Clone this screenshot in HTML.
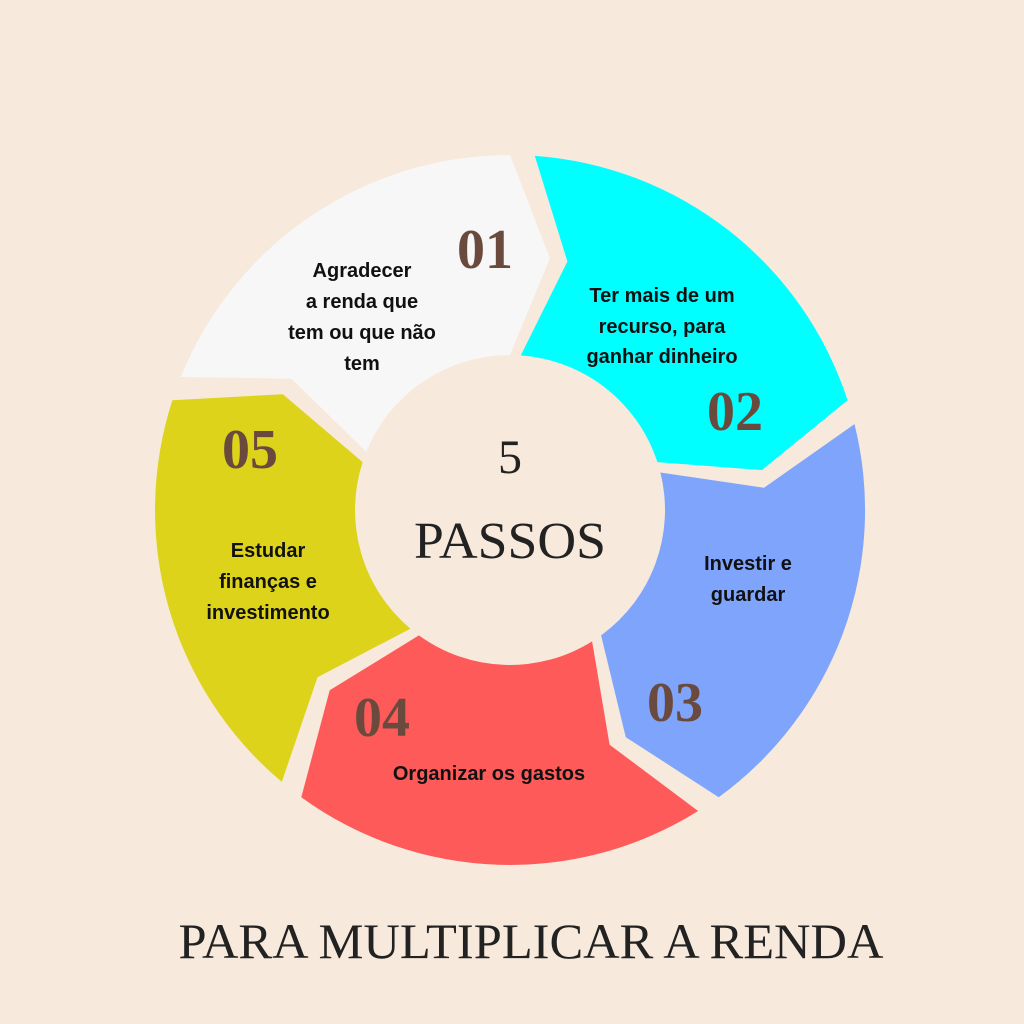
<!DOCTYPE html>
<html><head><meta charset="utf-8"><style>html,body{margin:0;padding:0;background:#f7e9dc}svg{display:block}</style></head><body>
<svg width="1024" height="1024" viewBox="0 0 1024 1024" xmlns="http://www.w3.org/2000/svg">
<rect width="1024" height="1024" fill="#f7e9dc"/>
<path d="M534.8,155.9 A355,355 0 0 1 847.6,400.3 L761.9,470.1 L657.4,462.1 A155,155 0 0 0 520.8,355.4 L567.4,261.5 Z" fill="#00ffff"/>
<path d="M854.5,424.1 A355,355 0 0 1 718.7,797.2 L625.8,737.2 L601.1,635.4 A155,155 0 0 0 660.4,472.5 L764.0,487.8 Z" fill="#7fa4fb"/>
<path d="M698.1,811.0 A355,355 0 0 1 301.3,797.2 L329.7,690.3 L418.9,635.4 A155,155 0 0 0 592.1,641.4 L609.6,744.7 Z" fill="#fe5a59"/>
<path d="M281.8,781.9 A355,355 0 0 1 172.4,400.3 L282.8,394.2 L362.6,462.1 A155,155 0 0 0 410.4,628.7 L317.5,677.3 Z" fill="#dcd31a"/>
<path d="M180.8,377.0 A355,355 0 0 1 510,155 L549.9,258.1 L510,355 A155,155 0 0 0 366.3,451.9 L291.4,378.7 Z" fill="#f7f7f7"/>
<g font-family="Liberation Serif, serif" font-weight="bold" font-size="56" fill="#6b4a3e" text-anchor="middle">
<text x="485" y="268">01</text>
<text x="735" y="430">02</text>
<text x="675" y="721">03</text>
<text x="382" y="736">04</text>
<text x="250" y="468">05</text>
</g>
<g font-family="Liberation Sans, sans-serif" font-weight="bold" font-size="20" fill="#111" text-anchor="middle">
<text x="362" y="277">Agradecer</text>
<text x="362" y="308">a renda que</text>
<text x="362" y="339">tem ou que não</text>
<text x="362" y="370">tem</text>
<text x="662" y="302">Ter mais de um</text>
<text x="662" y="333">recurso, para</text>
<text x="662" y="363">ganhar dinheiro</text>
<text x="748" y="570">Investir e</text>
<text x="748" y="601">guardar</text>
<text x="489" y="780">Organizar os gastos</text>
<text x="268" y="557">Estudar</text>
<text x="268" y="588">finanças e</text>
<text x="268" y="619">investimento</text>
</g>
<g font-family="Liberation Serif, serif" fill="#222" text-anchor="middle">
<text x="510" y="473" font-size="48">5</text>
<text x="510" y="558" font-size="52" textLength="192" lengthAdjust="spacingAndGlyphs">PASSOS</text>
<text x="531" y="958" font-size="50" textLength="705" lengthAdjust="spacingAndGlyphs">PARA MULTIPLICAR A RENDA</text>
</g>
</svg>
</body></html>
